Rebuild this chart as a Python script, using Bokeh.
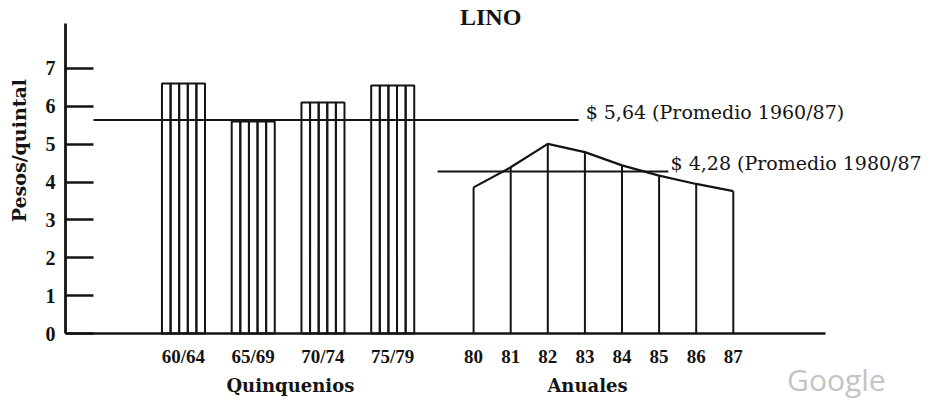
import math
from bokeh.plotting import figure
from bokeh.models import Range1d, FixedTicker, Label, LinearAxis
from bokeh.embed import file_html
from bokeh.resources import INLINE

# ---------------- data ----------------
quinq_labels = ["60/64", "65/69", "70/74", "75/79"]
quinq_values = [6.60, 5.60, 6.10, 6.55]
annual_labels = ["80", "81", "82", "83", "84", "85", "86", "87"]
annual_values = [3.86, 4.39, 5.01, 4.79, 4.44, 4.17, 3.95, 3.76]
avg_all = 5.64
avg_annual = 4.28
avg_all_text = "$ 5,64 (Promedio  1960/87)"
avg_annual_text = "$ 4,28 (Promedio 1980/87"
y_ticks = [0, 1, 2, 3, 4, 5, 6, 7]
title_text = "LINO"
y_label_text = "Pesos/quintal"
group_labels = ["Quinquenios", "Anuales"]
watermark_text = "Google"

# ---------------- layout ----------------
W, H = 933, 401
PX_X = 37.1            # pixels per x unit
PX_Y = 37.86           # pixels per y unit
ORIGIN_X = 65          # pixel column of the y axis
ORIGIN_Y = 333         # pixel row of the x axis
X_AXIS_END = 20.49
Y_AXIS_END = 8.19
QUINQ_START = 3.18
QUINQ_STEP = 1.88
BAR_W = 1.16
STRIPS = 5
ANNUAL_START = 11.0
ANNUAL_STEP = 1.0
TEXT_RISE = 8 / PX_Y   # annotation text sits a little above its line
INK = "#141414"
SERIF = "DejaVu Serif"
TICKFONT = "Liberation Serif"

quinq_x = [round(QUINQ_START + i * QUINQ_STEP, 3) for i in range(len(quinq_values))]
annual_x = [round(ANNUAL_START + i * ANNUAL_STEP, 3) for i in range(len(annual_values))]

x_range = Range1d(-ORIGIN_X / PX_X, (W - ORIGIN_X) / PX_X)
y_range = Range1d((ORIGIN_Y - H) / PX_Y, ORIGIN_Y / PX_Y)

p = figure(width=W, height=H, x_range=x_range, y_range=y_range,
           output_backend="svg", toolbar_location=None,
           x_axis_location=None, y_axis_location=None,
           min_border=0, min_border_left=0, min_border_right=0,
           min_border_top=0, min_border_bottom=0)
p.background_fill_color = "white"
p.border_fill_color = "white"
p.outline_line_color = None
p.grid.visible = False

# y axis (drawn at x = 0)
ya = LinearAxis(fixed_location=0, bounds=(0, Y_AXIS_END))
ya.ticker = FixedTicker(ticks=y_ticks)
ya.minor_tick_line_color = None
ya.major_tick_in = 28
ya.major_tick_out = 0
ya.major_tick_line_width = 2.6
ya.major_tick_line_color = INK
ya.axis_line_width = 2.8
ya.axis_line_color = INK
ya.major_label_standoff = 10
ya.major_label_text_font = TICKFONT
ya.major_label_text_font_style = "bold"
ya.major_label_text_font_size = "20px"
ya.major_label_text_color = INK
p.add_layout(ya, "left")

# x axis (drawn at y = 0)
xa = LinearAxis(fixed_location=0, bounds=(0, X_AXIS_END))
xa.ticker = FixedTicker(ticks=quinq_x + annual_x)
overrides = {}
for x, lab in zip(quinq_x, quinq_labels):
    overrides[x] = lab
for x, lab in zip(annual_x, annual_labels):
    overrides[x] = lab
xa.major_label_overrides = overrides
xa.minor_tick_line_color = None
xa.major_tick_in = 0
xa.major_tick_out = 0
xa.axis_line_width = 2.4
xa.axis_line_color = INK
xa.major_label_standoff = 12
xa.major_label_text_font = TICKFONT
xa.major_label_text_font_style = "bold"
xa.major_label_text_font_size = "19px"
xa.major_label_text_color = INK
p.add_layout(xa, "below")

# quinquennial bars, each split into 5 yearly strips
lefts, rights, tops = [], [], []
for c, v in zip(quinq_x, quinq_values):
    w = BAR_W / STRIPS
    for k in range(STRIPS):
        l = c - BAR_W / 2 + k * w
        lefts.append(l)
        rights.append(l + w)
        tops.append(v)
p.quad(left=lefts, right=rights, top=tops, bottom=0,
       fill_color=None, line_color=INK, line_width=2.0)

# annual polygon
p.segment(x0=annual_x, y0=[0] * len(annual_x), x1=annual_x, y1=annual_values,
          line_color=INK, line_width=2.0)
p.line(annual_x, annual_values, line_color=INK, line_width=2.2)

# average lines
p.segment(x0=[0.755, 10.03], y0=[avg_all, avg_annual],
          x1=[13.83, 16.25], y1=[avg_all, avg_annual],
          line_color=INK, line_width=2.0)

# texts
p.add_layout(Label(x=14.02, y=avg_all + TEXT_RISE, text=avg_all_text, text_font=SERIF,
                   text_font_size="19px", text_color=INK,
                   text_align="left", text_baseline="middle"))
p.add_layout(Label(x=16.31, y=avg_annual + TEXT_RISE, text=avg_annual_text, text_font=SERIF,
                   text_font_size="19px", text_color=INK,
                   text_align="left", text_baseline="middle"))
p.add_layout(Label(x=11.46, y=8.35, text=title_text, text_font=TICKFONT,
                   text_font_style="bold", text_font_size="24px", text_color=INK,
                   text_align="center", text_baseline="middle"))
p.add_layout(Label(x=-1.24, y=4.83, text=y_label_text, text_font=SERIF,
                   text_font_style="bold", text_font_size="19px", text_color=INK,
                   text_align="center", text_baseline="middle", angle=math.pi / 2))
p.add_layout(Label(x=6.06, y=-1.37, text=group_labels[0], text_font=SERIF,
                   text_font_style="bold", text_font_size="18px", text_color=INK,
                   text_align="center", text_baseline="middle"))
p.add_layout(Label(x=14.07, y=-1.37, text=group_labels[1], text_font=SERIF,
                   text_font_style="bold", text_font_size="18px", text_color=INK,
                   text_align="center", text_baseline="middle"))
p.add_layout(Label(x=19.45, y=-1.755, text=watermark_text, text_font="Open Sans",
                   text_font_size="30px", text_color="#c4c4c4",
                   text_align="left", text_baseline="bottom"))

open("out.html", "w").write(file_html(p, INLINE))
